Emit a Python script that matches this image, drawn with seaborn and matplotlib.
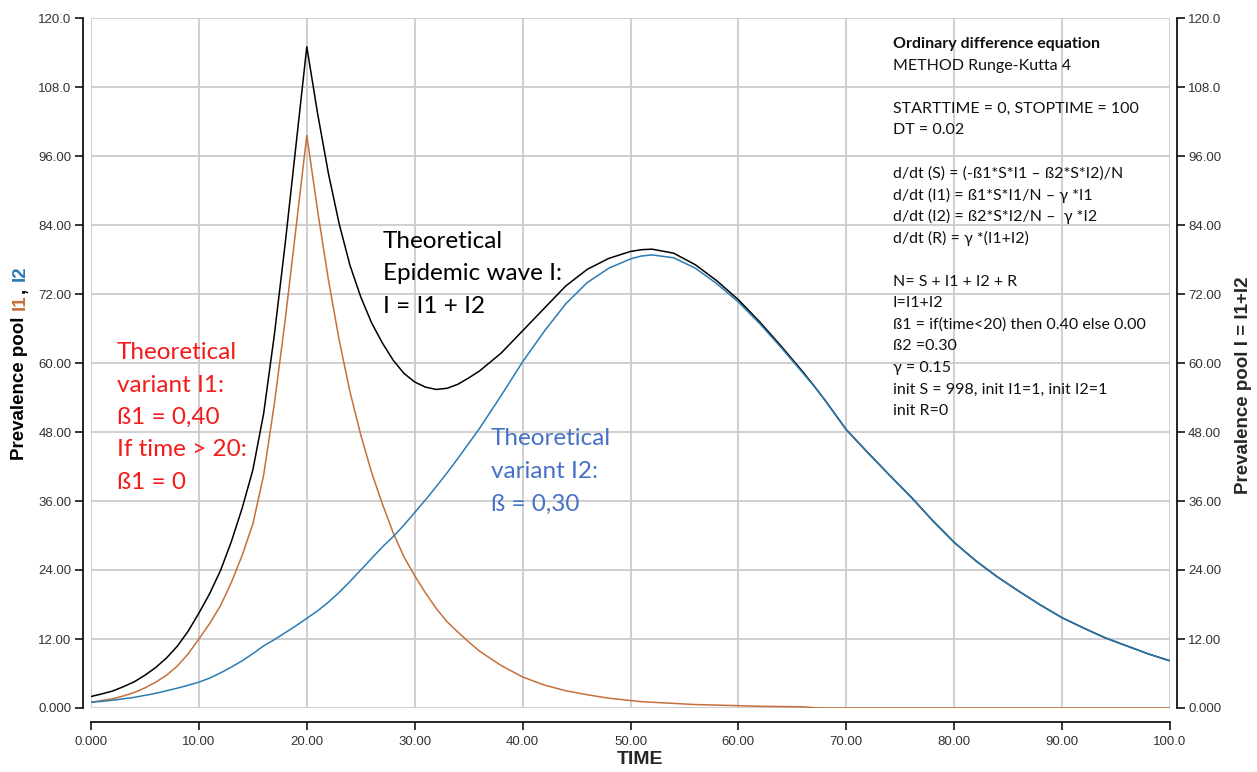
import matplotlib
matplotlib.use("Agg")
import matplotlib.pyplot as plt
import seaborn as sns
import pandas as pd
from matplotlib.ticker import MultipleLocator, FuncFormatter

# values
time = [0, 1, 2, 3, 4, 5, 6, 7, 8, 9, 10, 11, 12, 13, 14, 15, 16, 17, 18, 19, 20,
        21, 22, 23, 24, 25, 26, 27, 28, 29, 30, 31, 32, 33, 34, 35, 36, 38, 40,
        42, 44, 46, 48, 50, 51, 52, 54, 56, 58, 60, 62, 64, 66, 67, 68, 70, 72,
        74, 76, 78, 80, 82, 84, 86, 88, 90, 92, 94, 96, 98, 100]

i1 = [1.0, 1.3, 1.6, 2.1, 2.7, 3.5, 4.5, 5.7, 7.3, 9.4, 12.0, 14.7, 17.8, 21.8, 26.5, 32.0, 40.5, 53.0, 67.5, 83.5, 99.6,
      86.5, 74.5, 64.0, 55.0, 47.5, 41.0, 35.5, 30.5, 26.3, 23.0, 20.0, 17.3, 15.0, 13.2, 11.5, 9.9, 7.4, 5.4,
      4.0, 3.0, 2.3, 1.7, 1.3, 1.1, 1.0, 0.8, 0.6, 0.5, 0.4, 0.3, 0.25, 0.2, 0.05, 0.0, 0.0, 0.0,
      0.0, 0.0, 0.0, 0.0, 0.0, 0.0, 0.0, 0.0, 0.0, 0.0, 0.0, 0.0, 0.0, 0.0]

i2 = [1.0, 1.15, 1.35, 1.6, 1.85, 2.2, 2.55, 3.0, 3.45, 3.95, 4.5, 5.2, 6.1, 7.1, 8.2, 9.45, 10.8, 11.9, 13.1, 14.3, 15.6,
      16.9, 18.4, 20.1, 22.0, 24.0, 26.0, 28.0, 29.8, 31.8, 34.0, 36.2, 38.5, 40.9, 43.4, 46.0, 48.6, 54.3, 60.2,
      65.5, 70.3, 74.0, 76.5, 78.1, 78.6, 78.8, 78.3, 76.5, 73.8, 70.6, 66.8, 62.6, 58.2, 56.0, 53.6, 48.4, 44.4,
      40.5, 36.7, 32.6, 28.8, 25.6, 22.8, 20.3, 17.9, 15.7, 13.9, 12.2, 10.8, 9.4, 8.2]

i_total = [2.0, 2.45, 2.95, 3.7, 4.55, 5.7, 7.05, 8.7, 10.75, 13.35, 16.5, 19.9, 23.9, 28.9, 34.7, 41.4, 51.2, 65.0, 80.8, 97.9, 115.0,
           103.4, 93.0, 84.2, 77.0, 71.5, 67.0, 63.5, 60.5, 58.2, 56.7, 55.8, 55.4, 55.6, 56.3, 57.4, 58.6, 61.7, 65.6,
           69.5, 73.4, 76.3, 78.2, 79.4, 79.7, 79.8, 79.1, 77.1, 74.3, 71.0, 67.1, 62.85, 58.4, 56.05, 53.6, 48.4, 44.4,
           40.5, 36.7, 32.6, 28.8, 25.6, 22.8, 20.3, 17.9, 15.7, 13.9, 12.2, 10.8, 9.4, 8.2]

model_text = [
    ("Ordinary difference equation", True),
    ("METHOD Runge-Kutta 4", False),
    ("", False),
    ("STARTTIME = 0, STOPTIME = 100", False),
    ("DT = 0.02", False),
    ("", False),
    ("d/dt (S) = (-ß1*S*I1 \u2013 ß2*S*I2)/N", False),
    ("d/dt (I1) = ß1*S*I1/N \u2013 \u03b3 *I1", False),
    ("d/dt (I2) = ß2*S*I2/N \u2013  \u03b3 *I2", False),
    ("d/dt (R) = \u03b3 *(I1+I2)", False),
    ("", False),
    ("N= S + I1 + I2 + R", False),
    ("I=I1+I2", False),
    ("ß1 = if(time<20) then 0.40 else 0.00", False),
    ("ß2 =0.30", False),
    ("\u03b3 = 0.15", False),
    ("init S = 998, init I1=1, init I2=1", False),
    ("init R=0", False),
]

ORANGE = "#c5703a"
BLUE = "#2a7bb3"
RED = "#f41a1a"
TXTBLUE = "#4671c6"

W, H = 1257, 772

sns.set_style("white")
plt.rcParams['font.family'] = ['Liberation Sans', 'DejaVu Sans']
ANNOT = ['Lato', 'DejaVu Sans']
LBL = ['Liberation Sans', 'DejaVu Sans']

df = pd.DataFrame({"TIME": time, "I1": i1, "I2": i2, "I": i_total})

fig = plt.figure(figsize=(W / 100, H / 100), dpi=100)
ax = fig.add_axes([91 / W, (H - 708) / H, 1079 / W, 690 / H])
ax2 = ax.twinx()

# black wave sits under the two variants, like in the original
sns.lineplot(data=df, x="TIME", y="I", ax=ax, color="black", lw=1.1)
sns.lineplot(data=df, x="TIME", y="I1", ax=ax, color=ORANGE, lw=1.1)
sns.lineplot(data=df, x="TIME", y="I2", ax=ax, color=BLUE, lw=1.1)

fmt = FuncFormatter(lambda v, p: f"{v:#.4g}")
for a in (ax, ax2):
    a.set_xlim(0, 100)
    a.set_ylim(0, 120)
    a.yaxis.set_major_locator(MultipleLocator(12))
    a.yaxis.set_major_formatter(fmt)
    a.set_xlabel("")
    a.set_ylabel("")
ax.xaxis.set_major_locator(MultipleLocator(10))
ax.xaxis.set_major_formatter(fmt)

ax.grid(True, color="#cccccc", lw=1.3)
ax.set_axisbelow(True)

ax.spines["top"].set_visible(False)
ax.spines["right"].set_visible(False)
ax.spines["left"].set_position(("outward", 6))
ax.spines["bottom"].set_position(("outward", 10))
for s in ["top", "left", "bottom"]:
    ax2.spines[s].set_visible(False)
ax2.spines["right"].set_position(("outward", 5))
for sp in [ax.spines["left"], ax.spines["bottom"], ax2.spines["right"]]:
    sp.set_color("black")
    sp.set_linewidth(1.2)

ax.tick_params(axis="both", bottom=True, left=True, direction="out", length=6, width=1.1,
               color="black", labelsize=9.5, labelcolor="#333333")
ax.tick_params(axis="y", pad=2)
ax.tick_params(axis="x", pad=4)
ax2.tick_params(axis="y", right=True, direction="out", length=6, width=1.1,
                color="black", labelsize=9.5, labelcolor="#333333", pad=2)


def px(x, y):
    return x / W, 1 - y / H


def block(x, baseline, step, lines, color, size):
    for k, s in enumerate(lines):
        fig.text(*px(x, baseline + k * step), s, color=color, fontsize=size,
                 family=ANNOT, va="baseline", ha="left")


block(117, 359, 32.5, ["Theoretical", "variant I1:", "ß1 = 0,40", "If time > 20:", "ß1 = 0"], RED, 17.5)
block(383, 248, 32.5, ["Theoretical", "Epidemic wave I:", "I = I1 + I2"], "black", 17.5)
block(491, 445, 33, ["Theoretical", "variant I2:", "ß = 0,30"], TXTBLUE, 17.5)

for k, (s, bold) in enumerate(model_text):
    if s:
        fig.text(*px(893, 44 + k * 21.6), s, fontsize=11.5, family=ANNOT,
                 fontweight="bold" if bold else "normal", va="center", ha="left", color="#111111")

# axis titles
fig.text(*px(640, 760), "TIME", fontsize=14, fontweight="bold", family=LBL, ha="center", va="center")
fig.text(*px(1243, 385), "Prevalence pool I = I1+I2", rotation=90, fontsize=13.5, fontweight="bold",
         family=LBL, ha="center", va="center")

# left label with coloured I1 / I2, stacked piece by piece
renderer = fig.canvas.get_renderer()


def width(s):
    t = fig.text(0, 0, s, fontsize=13.5, fontweight="bold", family=LBL)
    w = t.get_window_extent(renderer).width
    t.remove()
    return w


gap = 7
pieces = [("Prevalence pool", "black", gap), ("I1", ORANGE, 1), (",", "black", gap), ("I2", BLUE, 0)]
total = sum(width(p[0]) + p[2] for p in pieces)
y = (H - 363) - total / 2
for s, c, g in pieces:
    t = fig.text(20 / W, y / H, s, rotation=90, fontsize=13.5, fontweight="bold",
                 family=LBL, color=c, ha="center", va="bottom")
    y = t.get_window_extent(renderer).y1 + g

fig.savefig("out.png", dpi=100)
